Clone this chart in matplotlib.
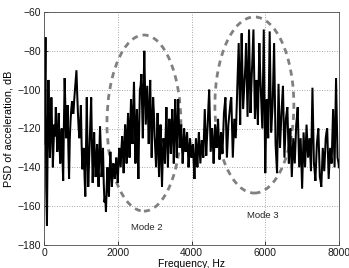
import numpy as np
import matplotlib
matplotlib.use("Agg")
import matplotlib.pyplot as plt
from matplotlib.patches import Ellipse

plt.rcParams['font.family'] = ['Liberation Sans', 'DejaVu Sans']

psd_db_even = [
    -128, -73, -170, -95, -135, -104, -140, -118, -109, -132,
    -112, -138, -120, -147, -94, -125, -108, -146, -116, -106,
    -112, -100, -90, -112, -125, -108, -141, -130, -155, -104,
    -150, -125, -104, -148, -122, -145, -128, -150, -119, -145,
    -130, -158, -163, -140, -155, -132, -150, -138, -146, -135,
    -148, -130, -140, -124, -143, -118, -138, -112, -135, -105,
    -128, -96, -138, -110, -146, -100, -92, -125, -80, -118,
    -98, -128, -95, -135, -104, -124, -140, -112, -145, -118,
    -150, -125, -138, -109, -140, -115, -133, -110, -138, -105,
    -135, -105, -130, -118, -138, -120, -132, -122, -140, -125,
    -135, -128, -146, -125, -140, -122, -138, -126, -135, -110,
    -134, -118, -100, -132, -120, -138, -118, -130, -115, -136,
    -122, -133, -112, -104, -135, -118, -110, -104, -135, -115,
    -125, -100, -76, -118, -71, -110, -95, -76, -114, -69,
    -112, -90, -69, -115, -95, -118, -76, -100, -120, -69,
    -143, -105, -125, -70, -122, -108, -76, -128, -143, -97,
    -130, -112, -98, -135, -115, -109, -138, -120, -145, -125,
    -138, -118, -109, -140, -125, -151, -122, -140, -118, -135,
    -125, -142, -99, -138, -147, -128, -120, -145, -150, -130,
    -142, -125, -120, -146, -130, -138, -110, -140, -94, -135,
    -140,
]
psd_db_odd = [
    -110, -150, -125, -118, -122, -120, -128, -124, -120, -125,
    -128, -126, -135, -118, -110, -120, -130, -125, -110, -112,
    -105, -95, -102, -120, -118, -128, -135, -145, -128, -130,
    -138, -115, -128, -135, -135, -136, -140, -132, -130, -140,
    -148, -155, -150, -150, -142, -142, -144, -140, -140, -142,
    -138, -135, -130, -132, -128, -126, -122, -122, -118, -116,
    -110, -115, -122, -128, -120, -98, -108, -100, -98, -108,
    -112, -110, -115, -118, -112, -132, -125, -130, -130, -135,
    -135, -130, -122, -125, -125, -122, -120, -124, -120, -120,
    -118, -118, -125, -128, -130, -126, -128, -130, -132, -130,
    -130, -138, -135, -132, -130, -130, -132, -130, -122, -122,
    -125, -108, -115, -126, -128, -128, -125, -122, -125, -128,
    -127, -122, -108, -120, -126, -114, -106, -120, -125, -120,
    -112, -88, -98, -92, -90, -102, -88, -96, -92, -92,
    -100, -80, -92, -104, -105, -98, -90, -110, -95, -106,
    -122, -115, -98, -96, -115, -92, -102, -135, -120, -114,
    -121, -105, -116, -125, -112, -123, -128, -132, -135, -132,
    -128, -114, -125, -132, -138, -136, -131, -129, -126, -130,
    -133, -120, -118, -142, -138, -124, -132, -147, -140, -136,
    -134, -122, -133, -138, -134, -124, -125, -117, -114, -137,
]
freq_step = 20

psd_db = []
for i, v in enumerate(psd_db_even):
    psd_db.append(v)
    if i < len(psd_db_odd):
        psd_db.append(psd_db_odd[i])
freqs = np.arange(len(psd_db)) * freq_step

x_ticks = [0, 2000, 4000, 6000, 8000]
y_ticks = [-180, -160, -140, -120, -100, -80, -60]

mode_labels = ["Mode 2", "Mode 3"]
mode_centers = [(2710, -117.2), (5705, -107.9)]
mode_sizes = [(2005, 90.7), (2141, 90.7)]
mode_text_pos = [(2780, -170.8), (5940, -164.6)]

fig = plt.figure(figsize=(3.49, 2.68), dpi=100)
ax = fig.add_axes([44/349, 1-245/268, 295/349, 233/268])

ax.plot(freqs, psd_db, color='black', lw=1.45, solid_joinstyle='miter')

for c, s in zip(mode_centers, mode_sizes):
    e = Ellipse(c, s[0], s[1], fill=False, edgecolor='0.5', lw=2.0,
                linestyle=(0, (2.2, 1.8)))
    ax.add_patch(e)
for lab, p in zip(mode_labels, mode_text_pos):
    ax.text(p[0], p[1], lab, ha='center', va='center', fontsize=6.8, color='0.15')

ax.set_xlim(0, 8000)
ax.set_ylim(-180, -60)
ax.set_xticks(x_ticks)
ax.set_yticks(y_ticks)
ax.set_xticklabels([str(v) for v in x_ticks])
ax.set_yticklabels([f"\u2212{abs(v)}" if v < 0 else str(v) for v in y_ticks])
ax.grid(True, linestyle=(0, (1, 2)), color='0.55', lw=0.6)
ax.tick_params(direction='in', length=3, width=0.6, labelsize=7.5, pad=2, colors='0.1')
for sp in ax.spines.values():
    sp.set_linewidth(0.6)
    sp.set_color('0.3')

ax.set_xlabel("Frequency, Hz", fontsize=7.5, labelpad=1)
ax.set_ylabel("PSD of acceleration, dB", fontsize=7.8, labelpad=3)

fig.savefig("out.png", dpi=100)
